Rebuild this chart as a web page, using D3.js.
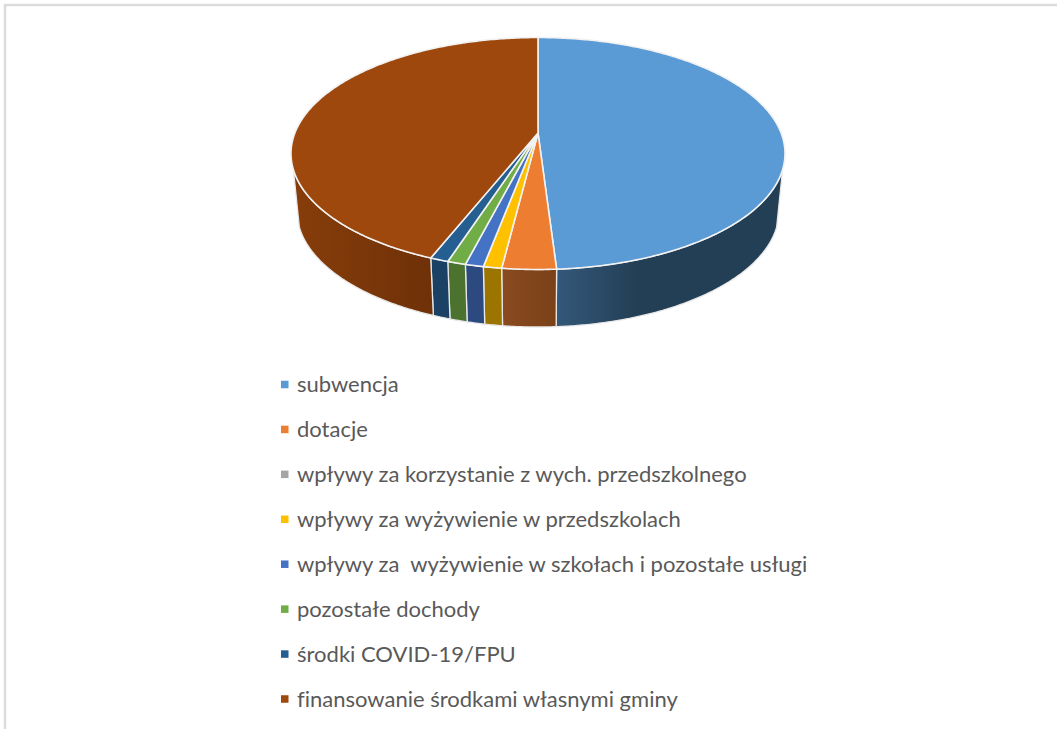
<!DOCTYPE html>
<html>
<head>
<meta charset="utf-8">
<script src="https://cdn.jsdelivr.net/npm/d3@7"></script>
<style>
    html, body { margin: 0; padding: 0; background: #fff; overflow: hidden; }
    svg { display: block; }
    .legend-label { font-family: Lato, sans-serif; font-size: 22px; fill: #595959; white-space: pre; font-variant-ligatures: none; }
</style>
</head>
<body>
<svg id="chart" width="1057" height="729"></svg>
<script>
// Values, in percent
const categories = [
    'subwencja',
    'dotacje',
    'wpływy za korzystanie z wych. przedszkolnego',
    'wpływy za wyżywienie w przedszkolach',
    'wpływy za  wyżywienie w szkołach i pozostałe usługi',
    'pozostałe dochody',
    'środki COVID-19/FPU',
    'finansowanie środkami własnymi gminy'
];
const shares = [48.8, 3.55, 0, 1.2, 1.2, 1.2, 1.2, 42.85];
const topColors = ['#5b9bd5', '#ed7d31', '#a5a5a5', '#ffc000', '#4472c4', '#70ad47', '#255e91', '#9e480e'];
// side wall shading, [left colour, right colour]
const wallColors = [
    ['#34587a', '#233f55'],
    ['#8b4a1f', '#7a4119'],
    ['#636363', '#636363'],
    ['#9b7500', '#9b7500'],
    ['#2d4a80', '#2d4a80'],
    ['#4b722f', '#4b722f'],
    ['#1b4264', '#1b4264'],
    ['#873d0a', '#6f3108']
];

const svg = d3.select('#chart');
const defs = svg.append('defs');

// Frame of the pasted chart, only top and left edges are in view
svg.append('path')
    .attr('d', 'M5,729V5H1057')
    .attr('fill', 'none')
    .attr('stroke', '#dcdcdc')
    .attr('stroke-width', 2.5);

// Perspective pie: near rim is an ellipse, the apex sits above its centre
const topRim = { cx: 538, cy: 153.5, rx: 247, ry: 116, apexY: 133 };
const bottomRim = { cx: 538, cy: 211, rx: 241, ry: 116 };
const wallStart = 98 * Math.PI / 180;
const wallEnd = 262 * Math.PI / 180;

const rimX = e => d3.scaleLinear().domain([-1, 1]).range([e.cx - e.rx, e.cx + e.rx]);
const rimY = e => d3.scaleLinear().domain([-1, 1]).range([e.cy + e.ry, e.cy - e.ry]);

const topX = rimX(topRim), topY = rimY(topRim);
const bottomX = rimX(bottomRim), bottomY = rimY(bottomRim);

const onTop = t => [topX(Math.sin(t)), topY(Math.cos(t))];
const onBottom = t => [bottomX(Math.sin(t)), bottomY(Math.cos(t))];

const samples = (a, b) => {
    const n = Math.max(2, Math.ceil((b - a) / 0.01));
    return d3.range(n + 1).map(i => a + (b - a) * i / n);
};

const outline = d3.line();
const arcs = d3.pie().sort(null).value(d => d)(shares);

// Side walls first, the top faces cover their upper seam
const wallArcs = arcs
    .map((d, i) => ({ i, a: Math.max(d.startAngle, wallStart), b: Math.min(d.endAngle, wallEnd) }))
    .filter(d => d.b > d.a);

wallArcs.forEach(d => {
    const grad = defs.append('linearGradient')
        .attr('id', 'wall-' + d.i)
        .attr('gradientUnits', 'userSpaceOnUse')
        .attr('x1', Math.min(onTop(d.a)[0], onTop(d.b)[0]))
        .attr('x2', Math.max(onTop(d.a)[0], onTop(d.b)[0]))
        .attr('y1', 0)
        .attr('y2', 0);
    const colors = wallColors[d.i];
    if (d.i === 0) {
        // blue wall goes flat after the first part of its run
        grad.append('stop').attr('offset', 0).attr('stop-color', colors[0]);
        grad.append('stop').attr('offset', 0.35).attr('stop-color', colors[1]);
        grad.append('stop').attr('offset', 1).attr('stop-color', colors[1]);
    } else {
        grad.append('stop').attr('offset', 0).attr('stop-color', colors[0]);
        grad.append('stop').attr('offset', 1).attr('stop-color', colors[1]);
    }
});

svg.append('g')
    .selectAll('path')
    .data(wallArcs)
    .join('path')
    .attr('d', d => {
        const ts = samples(d.a, d.b);
        return outline(ts.map(onTop).concat(ts.slice().reverse().map(onBottom))) + 'Z';
    })
    .attr('fill', d => `url(#wall-${d.i})`)
    .attr('stroke', '#e8e8e8')
    .attr('stroke-width', 1.3);

// Top faces
svg.append('g')
    .selectAll('path')
    .data(arcs.filter(d => d.value > 0))
    .join('path')
    .attr('d', d => outline([[topRim.cx, topRim.apexY]].concat(samples(d.startAngle, d.endAngle).map(onTop))) + 'Z')
    .attr('fill', d => topColors[d.index])
    .attr('stroke', '#f2f2f2')
    .attr('stroke-width', 1.6)
    .attr('stroke-linejoin', 'round');

// Legend
const legendY = d3.scalePoint().domain(categories).range([384.5, 699]);

const legend = svg.append('g')
    .selectAll('g')
    .data(categories)
    .join('g')
    .attr('transform', d => `translate(281,${legendY(d)})`);

legend.append('rect')
    .attr('y', -3.75)
    .attr('width', 7.5)
    .attr('height', 7.5)
    .attr('fill', (d, i) => topColors[i]);

legend.append('text')
    .attr('class', 'legend-label')
    .attr('x', 16)
    .attr('y', 7.5)
    .attr('xml:space', 'preserve')
    .text(d => d);
</script>
</body>
</html>
